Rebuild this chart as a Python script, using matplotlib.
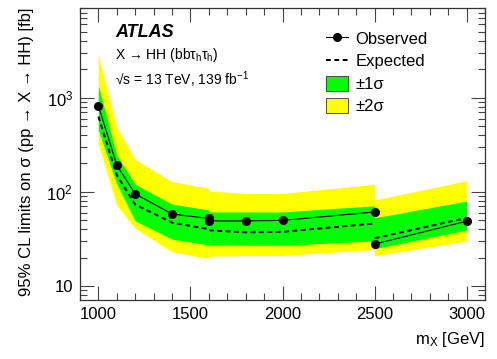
import numpy as np
import matplotlib
matplotlib.use("Agg")
import matplotlib.pyplot as plt
from matplotlib.ticker import FixedLocator, MultipleLocator, FixedFormatter, NullFormatter
from matplotlib.lines import Line2D
from matplotlib.patches import Patch

plt.rcParams['font.family'] = ['Liberation Sans', 'DejaVu Sans']
plt.rcParams['mathtext.fontset'] = 'custom'
plt.rcParams['mathtext.rm'] = 'Liberation Sans'
plt.rcParams['mathtext.it'] = 'Liberation Sans:italic'
plt.rcParams['mathtext.bf'] = 'Liberation Sans:bold'

# --- segment 1 (low mass) ---
m1 = [1000, 1100, 1200, 1400, 1600]
obs1 = [820, 191, 95, 58, 52]
exp1 = [630, 150, 73, 47, 40]
g_lo1 = [450, 121, 49, 31.4, 27.1]
g_hi1 = [1340, 245, 120, 74, 64]
y_lo1 = [318, 72, 41, 23, 19.5]
y_hi1 = [2840, 488, 221, 128, 109]

# --- segment 2 (intermediate mass) ---
m2 = [1600, 1800, 2000, 2500]
obs2 = [49, 49, 49.6, 61]
exp2 = [39, 37, 37.5, 46]
g_lo2 = [27.5, 27, 27, 30]
g_hi2 = [61, 61, 61, 71]
y_lo2 = [20.7, 21, 21, 24.4]
y_hi2 = [102, 96, 96, 120]

# --- segment 3 (high mass) ---
m3 = [2500, 3000]
obs3 = [27.8, 48.7]
exp3 = [32, 52.8]
g_lo3 = [24.8, 39.2]
g_hi3 = [52.8, 79.6]
y_lo3 = [20.9, 30]
y_hi3 = [81.6, 131]

green = "#00ff00"
yellow = "#ffff00"

fig = plt.figure(figsize=(4.97, 3.59), dpi=100)
ax = fig.add_axes([0.161, 0.164, 0.815, 0.814])

segments = [
    (m1, obs1, exp1, g_lo1, g_hi1, y_lo1, y_hi1),
    (m2, obs2, exp2, g_lo2, g_hi2, y_lo2, y_hi2),
    (m3, obs3, exp3, g_lo3, g_hi3, y_lo3, y_hi3),
]
for m, obs, exp, glo, ghi, ylo, yhi in segments:
    ax.fill_between(m, ylo, yhi, color=yellow, lw=0, zorder=1)
    ax.fill_between(m, glo, ghi, color=green, lw=0, zorder=2)
    ax.plot(m, exp, color='black', ls=(0, (2.5, 1.8)), lw=1.4, zorder=3)
    ax.plot(m, obs, color='black', lw=0.8, marker='o', markersize=5.5, zorder=4)

ax.set_yscale('log')
ax.set_xlim(900, 3100)
ax.set_ylim(7.05, 9000)

ax.xaxis.set_major_locator(MultipleLocator(500))
ax.xaxis.set_minor_locator(MultipleLocator(100))
ax.yaxis.set_major_locator(FixedLocator([10, 100, 1000]))
ax.yaxis.set_major_formatter(FixedFormatter(["10", "$10^{2}$", "$10^{3}$"]))
ax.yaxis.set_minor_locator(FixedLocator([k * 10**e for e in range(0, 4) for k in range(2, 10)]))
ax.yaxis.set_minor_formatter(NullFormatter())
ax.tick_params(which='both', direction='in', top=True, right=True, labelsize=12, width=0.8, color='#444444')
ax.tick_params(which='major', length=10, pad=5)
ax.tick_params(which='minor', length=5)
for s in ax.spines.values():
    s.set_linewidth(0.9)
    s.set_color('#333333')

ax.set_xlabel(r"m$_{\mathrm{X}}$ [GeV]", fontsize=12, loc='right', labelpad=6)
ax.set_ylabel("95% CL limits on σ (pp → X → HH) [fb]", fontsize=12, loc='top', labelpad=9)

ax.text(0.087, 0.945, "ATLAS", transform=ax.transAxes, fontsize=13, fontweight='bold',
        fontstyle='italic', va='top')
ax.text(0.087, 0.87, r"X → HH (bbτ$_{\mathrm{h}}$τ$_{\mathrm{h}}$)", transform=ax.transAxes, fontsize=10, va='top')
ax.text(0.087, 0.79, "√s = 13 TeV, 139 fb$^{-1}$", transform=ax.transAxes, fontsize=10, va='top')

handles = [
    Line2D([], [], color='black', lw=0.8, marker='o', markersize=5.5),
    Line2D([], [], color='black', ls=(0, (2.5, 1.8)), lw=1.4),
    Patch(facecolor=green, edgecolor='#333333', lw=0.6),
    Patch(facecolor=yellow, edgecolor='#333333', lw=0.6),
]
labels = ["Observed", "Expected", "±1σ", "±2σ"]
ax.legend(handles, labels, loc='upper left', bbox_to_anchor=(0.608, 0.922), frameon=False,
          fontsize=12, handlelength=1.3, handleheight=1.0, handletextpad=0.45,
          labelspacing=0.38, borderpad=0, borderaxespad=0)

fig.savefig("out.png", dpi=100)
